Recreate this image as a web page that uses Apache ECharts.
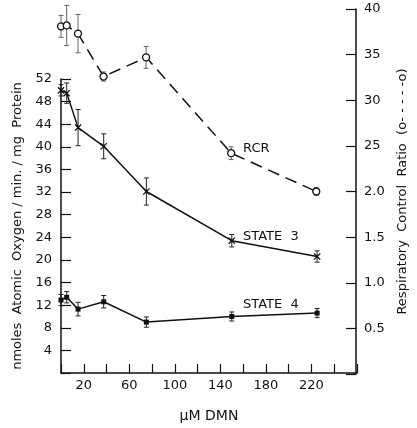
<!DOCTYPE html>
<html>
<head>
<meta charset="utf-8">
<script src="https://cdn.jsdelivr.net/npm/echarts@6/dist/echarts.min.js"></script>
<style>
  html, body { margin: 0; padding: 0; background: #fff; }
  #chart { width: 417px; height: 428px; }
</style>
</head>
<body>
<div id="chart"></div>
<script>
// dose of DMN (uM)
var doses = [0, 5, 15, 37.5, 75, 150, 225];
// nmoles atomic oxygen / min / mg protein
var state3 = [50.0, 49.5, 43.4, 40.1, 32.1, 23.4, 20.6];
var state3Err = [1.0, 1.8, 3.2, 2.2, 2.4, 1.1, 1.0];
var state4 = [12.9, 13.4, 11.3, 12.6, 9.0, 10.0, 10.6];
var state4Err = [1.0, 1.0, 1.2, 1.1, 0.9, 0.8, 0.8];
// respiratory control ratio
var rcr = [3.81, 3.82, 3.73, 3.26, 3.47, 2.42, 2.0];
var rcrErr = [0.12, 0.22, 0.21, 0.05, 0.12, 0.07, 0.04];

var xLabels = ['20', '60', '100', '140', '180', '220'];
var rightLabels = ['40', '35', '30', '25', '2.0', '1.5', '1.0', '0.5'];

var font = 'DejaVu Sans';
var ink = '#111';

function pairs(xs, ys) {
	return xs.map(function (x, i) { return [x, ys[i]]; });
}
function errRows(xs, ys, es) {
	return xs.map(function (x, i) { return [x, ys[i] - es[i], ys[i] + es[i]]; });
}
function errBar(color, w) {
	return function (params, api) {
		var lo = api.coord([api.value(0), api.value(1)]);
		var hi = api.coord([api.value(0), api.value(2)]);
		var c = 2.5;
		var st = { stroke: color, lineWidth: w };
		return {
			type: 'group',
			children: [
				{ type: 'line', shape: { x1: lo[0], y1: lo[1], x2: hi[0], y2: hi[1] }, style: st },
				{ type: 'line', shape: { x1: lo[0] - c, y1: lo[1], x2: lo[0] + c, y2: lo[1] }, style: st },
				{ type: 'line', shape: { x1: hi[0] - c, y1: hi[1], x2: hi[0] + c, y2: hi[1] }, style: st }
			]
		};
	};
}

var crossPath = 'path://M0,0L10,10M10,0L0,10M0,0L1,0L10,9L10,10L9,10L0,1ZM10,0L10,1L1,10L0,10L0,9L9,0Z';

var myChart = echarts.init(document.getElementById('chart'));
myChart.setOption({
	backgroundColor: '#fff',
	animation: false,
	grid: [
		{ left: 61, right: 60, top: 79, bottom: 54 },
		{ left: 61, right: 60, top: 9, bottom: 54 }
	],
	xAxis: [
		{
			gridIndex: 0, type: 'value', min: 0, max: 260, interval: 20,
			name: 'μM DMN', nameLocation: 'middle', nameGap: 36,
			nameTextStyle: { color: ink, fontFamily: font, fontSize: 14 },
			axisLine: { onZero: false, lineStyle: { color: ink, width: 1.5 } },
			axisTick: { inside: true, length: 9, lineStyle: { color: ink, width: 1.2 } },
			axisLabel: {
				color: ink, fontFamily: font, fontSize: 13, margin: 6,
				formatter: function (v) { return xLabels.indexOf(String(v)) >= 0 ? String(v) : ''; }
			},
			splitLine: { show: false }
		},
		{
			gridIndex: 1, type: 'value', min: 0, max: 260, show: false
		}
	],
	yAxis: [
		{
			gridIndex: 0, type: 'value', min: 0, max: 52, interval: 4,
			name: 'nmoles  Atomic  Oxygen / min. / mg  Protein', nameLocation: 'middle',
			nameRotate: 90, nameGap: 34,
			nameTextStyle: { color: ink, fontFamily: font, fontSize: 13 },
			axisLine: { show: true, onZero: false, lineStyle: { color: ink, width: 1.5 } },
			axisTick: { inside: true, length: 10, lineStyle: { color: ink, width: 1.2 } },
			axisLabel: {
				color: ink, fontFamily: font, fontSize: 13, margin: 9,
				formatter: function (v) { return v === 0 ? '' : String(v); }
			},
			splitLine: { show: false }
		},
		{
			gridIndex: 1, type: 'value', position: 'right', min: 0, max: 4, interval: 0.5,
			name: 'Respiratory  Control  Ratio  (o- - - - -o)', nameLocation: 'middle',
			nameRotate: 90, nameGap: 40,
			nameTextStyle: { color: ink, fontFamily: font, fontSize: 13 },
			axisLine: { show: true, onZero: false, lineStyle: { color: ink, width: 1.5 } },
			axisTick: { inside: true, length: 10, lineStyle: { color: ink, width: 1.2 } },
			axisLabel: {
				color: ink, fontFamily: font, fontSize: 13, margin: 8,
				formatter: function (v) {
					var i = Math.round((4 - v) / 0.5);
					return v > 0 && rightLabels[i] ? rightLabels[i] : '';
				}
			},
			splitLine: { show: false }
		}
	],
	series: [
		{
			name: 'STATE 3', type: 'line', xAxisIndex: 0, yAxisIndex: 0,
			data: pairs(doses, state3),
			symbol: crossPath, symbolSize: 6,
			lineStyle: { color: ink, width: 1.5 },
			itemStyle: { color: ink, borderColor: ink, borderWidth: 0.5 }
		},
		{
			type: 'custom', xAxisIndex: 0, yAxisIndex: 0,
			data: errRows(doses, state3, state3Err),
			renderItem: errBar('#222', 1)
		},
		{
			name: 'STATE 4', type: 'line', xAxisIndex: 0, yAxisIndex: 0,
			data: pairs(doses, state4),
			symbol: 'rect', symbolSize: 5,
			lineStyle: { color: ink, width: 1.5 },
			itemStyle: { color: ink }
		},
		{
			type: 'custom', xAxisIndex: 0, yAxisIndex: 0,
			data: errRows(doses, state4, state4Err),
			renderItem: errBar('#222', 1)
		},
		{
			name: 'RCR', type: 'line', xAxisIndex: 1, yAxisIndex: 1,
			data: pairs(doses, rcr),
			symbol: 'circle', symbolSize: 7,
			lineStyle: { color: ink, width: 1.5, type: [12, 7] },
			itemStyle: { color: '#fff', borderColor: ink, borderWidth: 1.3 }
		},
		{
			type: 'custom', xAxisIndex: 1, yAxisIndex: 1,
			data: errRows(doses, rcr, rcrErr),
			renderItem: errBar('#555', 0.9)
		}
	],
	graphic: [
		{ type: 'text', left: 243, top: 142, style: { text: 'RCR', fill: ink, font: '13px "DejaVu Sans"' } },
		{ type: 'text', left: 243, top: 230, style: { text: 'STATE  3', fill: ink, font: '13px "DejaVu Sans"' } },
		{ type: 'text', left: 243, top: 298, style: { text: 'STATE  4', fill: ink, font: '13px "DejaVu Sans"' } }
	]
}, true);
</script>
</body>
</html>
